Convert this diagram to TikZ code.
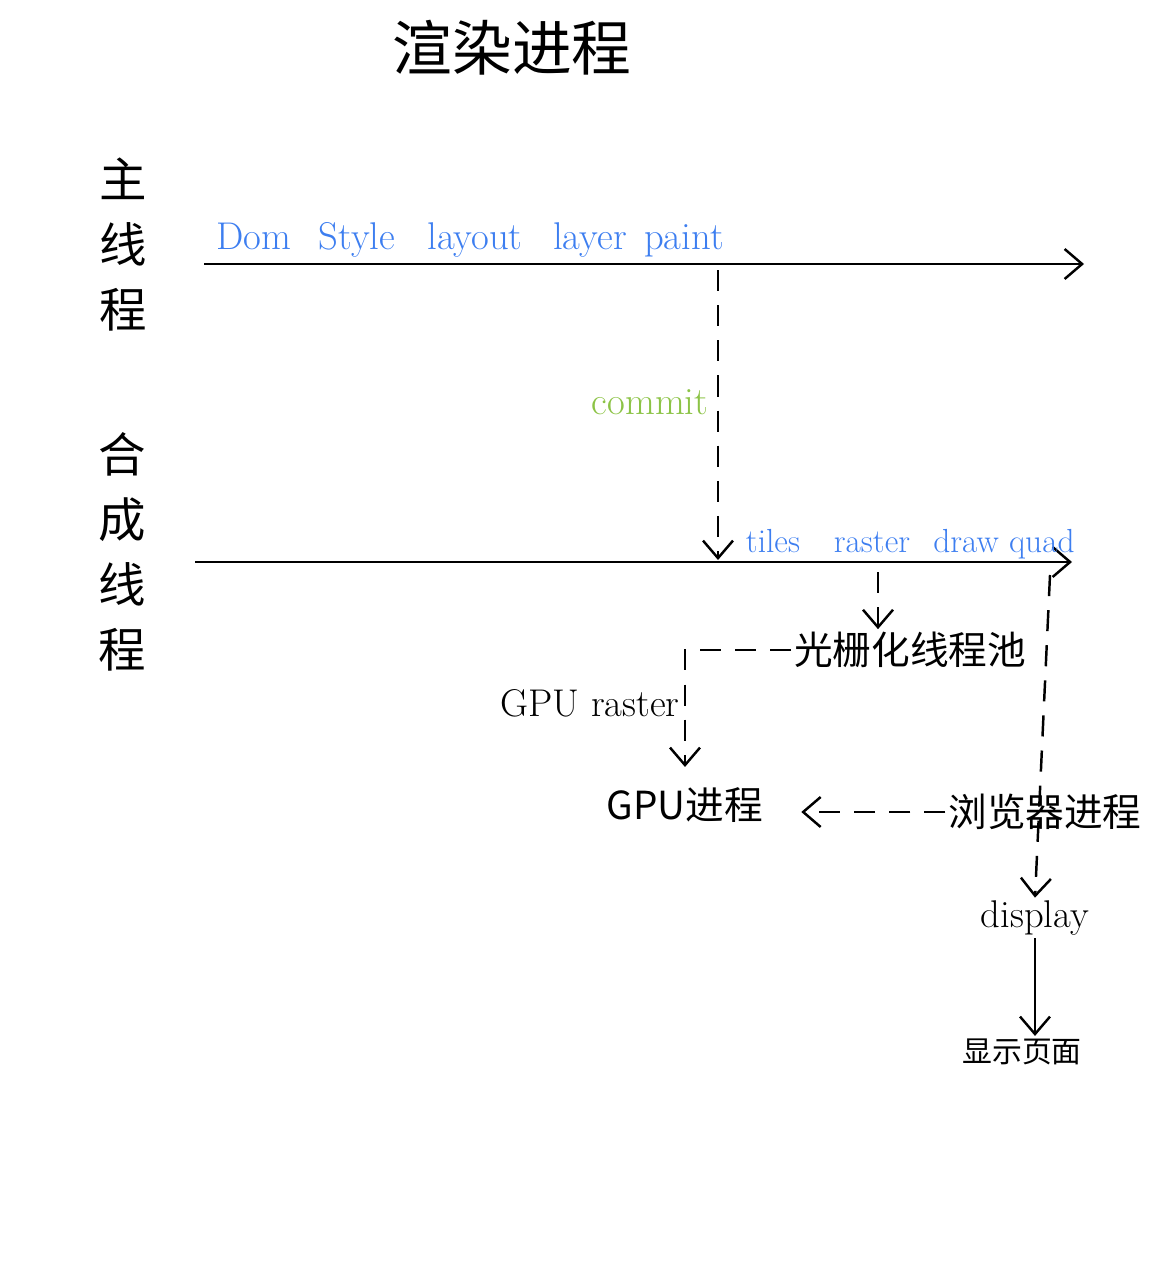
\documentclass[tikz,border=0pt]{standalone}
\usepackage{fontspec}
\newfontfamily\zhfont{Noto Sans CJK SC}
\usepackage{xcolor}
\usetikzlibrary{arrows.meta, positioning}
\definecolor{stepblue}{RGB}{61,126,240}
\definecolor{commitgreen}{RGB}{140,195,70}
\begin{document}
\begin{tikzpicture}[
        x=0.02cm, y=-0.02cm,
        line width=1.4pt,
        zh/.style={font=\zhfont\fontsize{22}{26}\selectfont, inner sep=1pt},
        vlabel/.style={font=\zhfont\fontsize{27}{37}\selectfont, align=center, inner sep=0pt},
        stage/.style={font=\fontsize{22}{26}\selectfont, text=stepblue, anchor=base, inner sep=0pt},
        en/.style={font=\fontsize{22}{26}\selectfont, inner sep=1pt},
        tip/.style={-{Straight Barb[length=3.5mm, width=6mm]}},
        dasharrow/.style={tip, dash pattern=on 12pt off 8pt},
    ]
    \useasboundingbox (0,0) rectangle (1159,1267);
    \node[zh, font=\zhfont\fontsize{34}{40}\selectfont] (title) at (512,48) {渲染进程};
    \node[vlabel] (mainlbl) at (123,245) {主\\线\\程};
    \node[vlabel] (complbl) at (122,552) {合\\成\\线\\程};
    % main thread
    \coordinate (m0) at (204,264);
    \coordinate (m1) at (1084,264);
    \draw[tip] (m0) -- (m1);
    \node[stage] (dom) at (254,250) {Dom};
    \node[stage] (style) at (357,250) {Style};
    \node[stage] (layout) at (475,250) {layout};
    \node[stage] (layer) at (590,250) {layer};
    \node[stage] (paint) at (684,250) {paint};
    % compositor thread
    \coordinate (c0) at (195,562);
    \coordinate (c1) at (1072,562);
    \draw[tip] (c0) -- (c1);
    \node[stage, font=\fontsize{19}{23}\selectfont] (tiles) at (773,552) {tiles};
    \node[stage, font=\fontsize{19}{23}\selectfont] (raster) at (872,552) {raster};
    \node[stage, font=\fontsize{19}{23}\selectfont] (drawquad) at (1004,552) {draw quad};
    % commit
    \coordinate (cm0) at (718,270);
    \coordinate (cm1) at (718,560);
    \draw[dasharrow] (cm0) -- (cm1);
    \node[en, text=commitgreen] (commit) at (650,402) {commit};
    % raster
    \node[zh] (pool) at (910,650) {光栅化线程池};
    \node[zh] (gpu) at (685,805) {GPU进程};
    \node[zh] (browser) at (1045,812) {浏览器进程};
    \node[zh, font=\fontsize{22}{26}\selectfont] (display) at (1035,918) {display};
    \node[zh, font=\zhfont\fontsize{17}{20}\selectfont] (page) at (1022,1052) {显示页面};
    \coordinate (r0) at (878,572);
    \draw[dasharrow] (r0) -- (r0 |- pool.north);
    \draw[dasharrow] (pool.west) -| ([yshift=10]gpu.north);
    \node[en] (gpuraster) at (590,703) {GPU raster};
    \draw[dasharrow] (browser.west) -- ([xshift=20]gpu.east |- browser.west);
    \coordinate (dq) at (1050,575);
    \draw[dasharrow] (dq) -- (display.north);
    \draw[tip] (display.south) -- (display.south |- page.north);
\end{tikzpicture}
\end{document}
